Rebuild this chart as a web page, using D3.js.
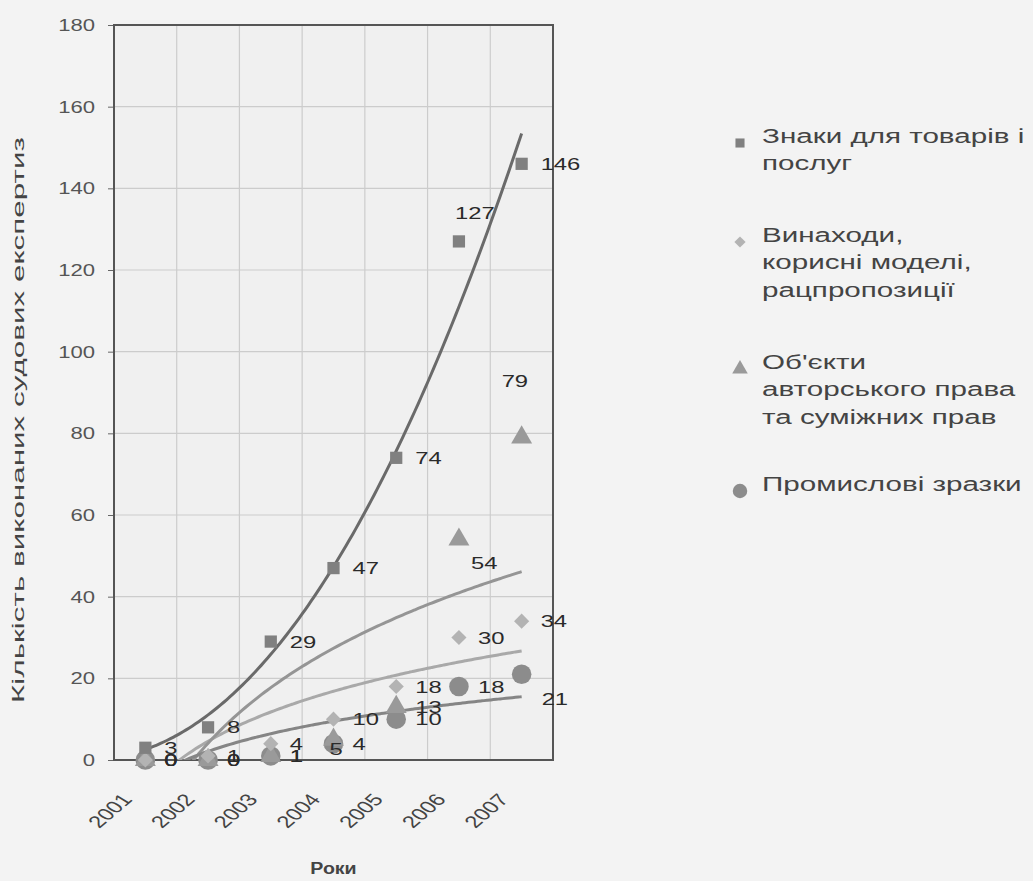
<!DOCTYPE html>
<html>
<head>
<meta charset="utf-8">
<script src="https://cdn.jsdelivr.net/npm/d3@7"></script>
<style>
  body { margin: 0; background: #f3f3f3; }
  text { font-family: "Liberation Sans", Arial, sans-serif; }
</style>
</head>
<body>
<div id="plot"></div>
<script>
// chart data
var years = ["2001", "2002", "2003", "2004", "2005", "2006", "2007"];
var yTicks = [0, 20, 40, 60, 80, 100, 120, 140, 160, 180];
var trademarks = [3, 8, 29, 47, 74, 127, 146];
var inventions = [0, 1, 4, 10, 18, 30, 34];
var copyright = [0, 0, 1, 5, 13, 54, 79];
var designs = [0, 0, 1, 4, 10, 18, 21];
var seriesNames = [
  ["Знаки для товарів і", "послуг"],
  ["Винаходи,", "корисні моделі,", "рацпропозиції"],
  ["Об'єкти", "авторського права", "та суміжних прав"],
  ["Промислові зразки"]
];

var svgWidth = 1033;
var svgHeight = 881;
var margin = { top: 25, right: 480, bottom: 121, left: 114 };
var width = svgWidth - margin.left - margin.right;
var height = svgHeight - margin.top - margin.bottom;
// the fonts in the picture are wide, stretch text horizontally
var stretch = 1.4;

var svg = d3.select("#plot")
  .append("svg")
  .attr("width", svgWidth)
  .attr("height", svgHeight);

svg.append("defs").append("clipPath")
  .attr("id", "clip")
  .append("rect")
  .attr("width", width)
  .attr("height", height);

var chartGroup = svg.append("g")
  .attr("transform", `translate(${margin.left}, ${margin.top})`);

var xBand = d3.scaleBand().domain(years).range([0, width]);
var xNum = d3.scaleLinear()
  .domain([1, years.length])
  .range([xBand(years[0]) + xBand.bandwidth() / 2, xBand(years[years.length - 1]) + xBand.bandwidth() / 2]);
var yLinearScale = d3.scaleLinear().domain([0, 180]).range([height, 0]);

// plot background
chartGroup.append("rect")
  .attr("width", width)
  .attr("height", height)
  .attr("fill", "#f0f0f0");

// gridlines
chartGroup.append("g")
  .selectAll("line")
  .data(yTicks.slice(1))
  .enter().append("line")
  .attr("x1", 0).attr("x2", width)
  .attr("y1", d => yLinearScale(d)).attr("y2", d => yLinearScale(d))
  .attr("stroke", "#cccccc").attr("stroke-width", 1.2);

chartGroup.append("g")
  .selectAll("line")
  .data(years.slice(1))
  .enter().append("line")
  .attr("x1", d => xBand(d)).attr("x2", d => xBand(d))
  .attr("y1", 0).attr("y2", height)
  .attr("stroke", "#cccccc").attr("stroke-width", 1.2);

// y axis
var leftAxis = d3.axisLeft(yLinearScale).tickValues(yTicks).tickSize(6);
var yAxisG = chartGroup.append("g").call(leftAxis);
yAxisG.select(".domain").remove();
yAxisG.selectAll("line").attr("stroke", "#666");
yAxisG.selectAll("text")
  .attr("x", -19 / 1.3)
  .attr("font-size", "17px")
  .attr("fill", "#555")
  .attr("font-family", "Liberation Sans, Arial, sans-serif")
  .attr("transform", "scale(1.3, 1)");

// x axis labels
var bottomAxis = d3.axisBottom(xBand).tickSize(0).tickPadding(0);
var xAxisG = chartGroup.append("g")
  .attr("transform", `translate(0, ${height})`)
  .call(bottomAxis);
xAxisG.select(".domain").remove();
xAxisG.selectAll("text")
  .attr("font-size", "17px")
  .attr("fill", "#444")
  .attr("font-family", "Liberation Sans, Arial, sans-serif")
  .attr("text-anchor", "end")
  .attr("dy", null)
  .attr("y", 0)
  .attr("transform", `translate(-12, 40) scale(${stretch}, 1) rotate(-50)`);

// frame
chartGroup.append("rect")
  .attr("width", width)
  .attr("height", height)
  .attr("fill", "none")
  .attr("stroke", "#555")
  .attr("stroke-width", 2);

// trend lines (fitted from the data)
function logFit(values) {
  var xs = values.map((v, i) => Math.log(i + 1));
  var mx = d3.mean(xs), my = d3.mean(values);
  var sxy = d3.sum(xs, (x, i) => (x - mx) * (values[i] - my));
  var sxx = d3.sum(xs, x => (x - mx) * (x - mx));
  var a = sxy / sxx, b = my - a * mx;
  return x => a * Math.log(x) + b;
}
function powerFit(values) {
  var xs = values.map((v, i) => Math.log(i + 1));
  var ys = values.map(v => Math.log(v));
  var mx = d3.mean(xs), my = d3.mean(ys);
  var sxy = d3.sum(xs, (x, i) => (x - mx) * (ys[i] - my));
  var sxx = d3.sum(xs, x => (x - mx) * (x - mx));
  var b = sxy / sxx, a = Math.exp(my - b * mx);
  return x => a * Math.pow(x, b);
}

var series = [
  { values: trademarks, fit: powerFit(trademarks), color: "#808080", line: "#6a6a6a", shape: d3.symbolSquare, size: 150, rot: 0 },
  { values: inventions, fit: logFit(inventions), color: "#b3b3b3", line: "#a9a9a9", shape: d3.symbolSquare, size: 115, rot: 45 },
  { values: copyright, fit: logFit(copyright), color: "#9a9a9a", line: "#959595", shape: d3.symbolTriangle, size: 190, rot: 0 },
  { values: designs, fit: logFit(designs), color: "#8c8c8c", line: "#858585", shape: d3.symbolCircle, size: 300, rot: 0 }
];

var trendGroup = chartGroup.append("g").attr("clip-path", "url(#clip)");
var sampleX = d3.range(1, 7.001, 0.05);
series.forEach(function(s) {
  var line = d3.line()
    .x(d => xNum(d))
    .y(d => yLinearScale(s.fit(d)))
    .curve(d3.curveMonotoneX);
  trendGroup.append("path")
    .datum(sampleX)
    .attr("d", line)
    .attr("fill", "none")
    .attr("stroke", s.line)
    .attr("stroke-width", 3);
});

// markers
series.slice().reverse().forEach(function(s) {
  chartGroup.append("g")
    .selectAll("path")
    .data(s.values)
    .enter().append("path")
    .attr("d", d3.symbol().type(s.shape).size(s.size))
    .attr("transform", (d, i) => `translate(${xBand(years[i]) + xBand.bandwidth() / 2}, ${yLinearScale(d)}) rotate(${s.rot})`)
    .attr("fill", s.color);
});

// data labels, default to the right of the marker
var labelShift = {
  "0-5": [-4, -29],
  "2-6": [-20, -57],
  "2-5": [12, 23],
  "2-3": [-4, 9],
  "3-6": [20, 25]
};
series.forEach(function(s, si) {
  chartGroup.append("g")
    .selectAll("text")
    .data(s.values)
    .enter().append("text")
    .attr("transform", function(d, i) {
      var shift = labelShift[si + "-" + i] || [19, 0];
      var x = xBand(years[i]) + xBand.bandwidth() / 2 + shift[0];
      var y = yLinearScale(d) + shift[1];
      return `translate(${x}, ${y}) scale(${stretch}, 1)`;
    })
    .attr("dy", "0.36em")
    .attr("font-size", "17px")
    .attr("fill", "#2a2a2a")
    .text(d => d);
});

// axis titles
svg.append("text")
  .attr("transform", `translate(${margin.left + width / 2}, 874) scale(1.15, 1)`)
  .attr("text-anchor", "middle")
  .attr("font-size", "17px")
  .attr("font-weight", "bold")
  .attr("fill", "#444")
  .text("Роки");

svg.append("text")
  .attr("transform", "translate(24, 420) rotate(-90) scale(1.85, 1)")
  .attr("text-anchor", "middle")
  .attr("font-size", "17px")
  .attr("fill", "#444")
  .text("Кількість виконаних судових експертиз");

// legend
var legendTop = [143, 242, 369, 491];
var legend = svg.append("g");
series.forEach(function(s, si) {
  legend.append("path")
    .attr("d", d3.symbol().type(s.shape).size(s.size * 0.55))
    .attr("transform", `translate(740, ${legendTop[si]}) rotate(${s.rot})`)
    .attr("fill", s.color);
  legend.append("text")
    .attr("transform", `translate(762, ${legendTop[si]}) scale(1.41, 1)`)
    .attr("dy", "0.36em")
    .attr("font-size", "21px")
    .attr("fill", "#444")
    .selectAll("tspan")
    .data(seriesNames[si])
    .enter().append("tspan")
    .attr("x", 0)
    .attr("dy", (d, i) => i === 0 ? 0 : 27.5)
    .text(d => d);
});
</script>
</body>
</html>
